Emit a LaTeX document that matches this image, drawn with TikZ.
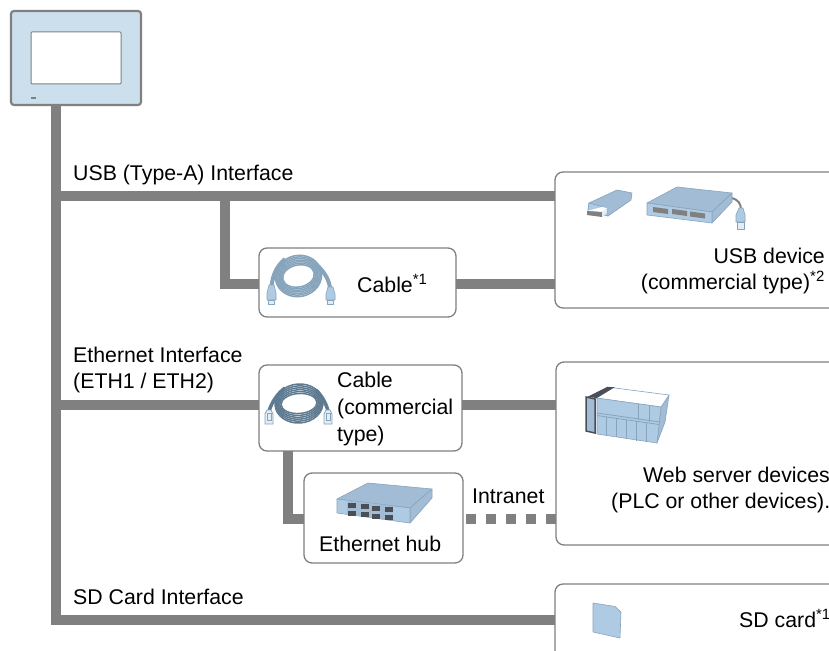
\documentclass[tikz,border=0pt]{standalone}
\usepackage{fontspec}
\setmainfont{Liberation Sans}
\definecolor{wiregray}{HTML}{808080}
\definecolor{panelblue}{HTML}{CBDFED}
\definecolor{iconblue}{HTML}{AECBE3}
\definecolor{icontop}{HTML}{A2BCD5}
\definecolor{iconedge}{HTML}{86A4BC}
\definecolor{paleplug}{HTML}{E3EDF5}
\definecolor{portdark}{HTML}{4A4F55}
\definecolor{ethcoil}{HTML}{5E7A90}
\tikzset{
	devbox/.style={draw=wiregray,fill=white,line width=1.3pt,rounded corners=8pt,inner sep=0pt,outer sep=0pt,anchor=north west},
	wire/.style={draw=wiregray,line width=10pt},
	lbl/.style={font=\fontsize{21.3}{25}\selectfont,inner sep=0pt,anchor=base west},
	rlbl/.style={lbl,anchor=base east},
	iconface/.style={fill=iconblue,draw=iconedge,line width=0.6pt,line join=round},
	icontopface/.style={fill=icontop,draw=iconedge,line width=0.6pt,line join=round},
	portslot/.style={fill=portdark,draw=none},
	usbstrand/.style={draw=iconedge,line width=1.5pt},
	ethstrand/.style={draw=ethcoil,line width=1.5pt},
}
\begin{document}
\begin{tikzpicture}[x=1pt,y=-1pt]
	\useasboundingbox (0,0) rectangle (829,650);

	\node[devbox,draw=wiregray,fill=panelblue,line width=2.2pt,rounded corners=3pt,minimum width=130pt,minimum height=94pt] (hmi) at (11,11) {};
	\node[devbox,rounded corners=1pt,line width=1pt,minimum width=90pt,minimum height=52pt] (screen) at (31,32) {};
	\node[fill=wiregray,inner sep=0pt,minimum width=5pt,minimum height=1.5pt] (led) at (33.5,98) {};

	\node[devbox,minimum width=197pt,minimum height=69pt] (usbcable) at (259,248) {};
	\node[devbox,minimum width=300pt,minimum height=136pt] (usbdev) at (555,172) {};
	\node[devbox,minimum width=203pt,minimum height=86pt] (ethcable) at (259,365) {};
	\node[devbox,minimum width=159pt,minimum height=90pt] (hub) at (304,473) {};
	\node[devbox,minimum width=300pt,minimum height=183pt] (webdev) at (556,362) {};
	\node[devbox,minimum width=300pt,minimum height=100pt] (sdcard) at (555,584) {};

	\coordinate (bustop) at (56,105);
	\coordinate (busend) at (56,620);
	\coordinate (usbtee) at (56,196);
	\coordinate (cabletee) at (225,196);
	\coordinate (ethtee) at (51,405);
	\coordinate (hubtee) at (288,451);

	\draw[wire] (bustop) -- (busend) -- (busend -| sdcard.west);
	\draw[wire] (usbtee) -- (usbtee -| usbdev.west);
	\draw[wire] (cabletee) |- (usbcable.west |- 0,284);
	\draw[wire] (usbcable.east |- 0,284) -- (usbdev.west |- 0,284);
	\draw[wire] (ethtee) -- (ethcable.west |- ethtee);
	\draw[wire] (ethcable.east |- ethtee) -- (webdev.west |- ethtee);
	\draw[wire] (hubtee) |- (hub.west |- 0,519);
	\draw[wire,dash pattern=on 10pt off 10pt] (hub.east |- 0,519) ++(3,0) -- (webdev.west |- 0,519);

	\node[lbl] (usblabel) at (73,180) {USB (Type-A) Interface};
	\node[lbl] (ethlabela) at (73,362) {Ethernet Interface};
	\node[lbl] (ethlabelb) at (73,388) {(ETH1 / ETH2)};
	\node[lbl] (sdlabel) at (73,604) {SD Card Interface};
	\node[lbl] (usbcabletext) at (357,292) {Cable\textsuperscript{*1}};
	\node[rlbl] (usbdeva) at (825,263) {USB device};
	\node[rlbl] (usbdevb) at (825,289) {(commercial type)\textsuperscript{*2}};
	\node[lbl] (ethcablea) at (337,387) {Cable};
	\node[lbl] (ethcableb) at (337,414) {(commercial};
	\node[lbl] (ethcablec) at (337,441) {type)};
	\node[lbl] (hubtext) at (319,551) {Ethernet hub};
	\node[lbl] (intranet) at (472,503) {Intranet};
	\node[lbl] (weba) at (643,482) {Web server devices};
	\node[lbl] (webb) at (611,508) {(PLC or other devices).};
	\node[lbl] (sdtext) at (739,627) {SD card\textsuperscript{*1}};

	\foreach \r in {0,1,2,3,4,5,6}
		\draw[usbstrand] (298.5,276) ellipse [x radius={16+1.2*\r},y radius={11+1.6*\r},rotate=12];
	\draw[usbstrand,line width=4pt] (271.5,286) .. controls (273,274) and (277,266) .. (285,259);
	\draw[usbstrand,line width=4pt] (330,288) .. controls (329,280) and (325,273) .. (318,266);
	\draw[iconface] (267,293) -- (269,285) -- (274,285) -- (276,293) -- (276,300) -- (267,300) -- cycle;
	\draw[iconface,fill=paleplug] (268.5,300) rectangle (274.5,304);
	\draw[iconface] (326,294) -- (328,287) -- (333,287) -- (335,294) -- (335,300) -- (326,300) -- cycle;
	\draw[iconface,fill=paleplug] (327.5,300) rectangle (333.5,304);

	\foreach \r in {0,1,2,3,4,5}
		\draw[ethstrand] (299,403.5) ellipse [x radius={18+1.2*\r},y radius={10+1.9*\r},rotate=4];
	\draw[ethstrand,line width=3.5pt] (269,411) .. controls (272,402) and (277,394) .. (285,388);
	\draw[ethstrand,line width=3.5pt] (328,411) .. controls (326,403) and (322,396) .. (316,390);
	\draw[iconedge,fill=paleplug,line width=0.8pt] (265,414) -- (267,410) -- (271,410) -- (273,414) -- (273,424) -- (265,424) -- cycle;
	\draw[iconedge,line width=0.6pt] (267,413) rectangle (271,420);
	\draw[iconedge,fill=paleplug,line width=0.8pt] (324,414) -- (326,410) -- (330,410) -- (332,414) -- (332,424) -- (324,424) -- cycle;
	\draw[iconedge,line width=0.6pt] (326,413) rectangle (330,420);

	\draw[icontopface] (589,203) -- (617,190) -- (632,193) -- (631,200) -- (608,216) -- (588,210) -- cycle;
	\draw[iconface] (589,203) -- (607,208) -- (608,216) -- (588,210) -- cycle;
	\draw[fill=white,draw=none] (587,211) -- (602,207) -- (607,208) -- (602,212) -- cycle;
	\draw[fill=wiregray,draw=none] (587,211) -- (602,212) -- (602,217) -- (587,215) -- cycle;
	\draw[fill=paleplug,draw=none] (602,212) -- (607,208) -- (607,213) -- (602,217) -- cycle;

	\draw[wiregray,line width=2pt] (732,198) .. controls (738,200) and (741,203) .. (741,210);
	\draw[iconface] (736,222) -- (736,215) -- (739,208) -- (743,208) -- (745,215) -- (745,222) -- cycle;
	\draw[iconedge,fill=paleplug,line width=0.8pt] (737,222) rectangle (744,229);
	\draw[icontopface] (647,203) -- (677,187) -- (732,193) -- (712,212) -- cycle;
	\draw[icontopface] (712,212) -- (732,193) -- (732,202) -- (712,223) -- cycle;
	\draw[iconface] (647,203) -- (712,212) -- (712,223) -- (647,215) -- cycle;
	\fill[wiregray] (653,207) -- (668,209) -- (668,214) -- (653,212) -- cycle;
	\fill[wiregray] (672,209) -- (687,211) -- (687,216) -- (672,214) -- cycle;
	\fill[wiregray] (690,211.5) -- (705,213.5) -- (705,218.5) -- (690,216.5) -- cycle;

	\draw[icontopface] (337,499) -- (368,483) -- (432,489) -- (410,508) -- cycle;
	\draw[icontopface] (410,508) -- (432,489) -- (432,498) -- (410,523) -- cycle;
	\draw[iconface] (337,499) -- (410,508) -- (410,523) -- (337,513) -- cycle;
	\draw[fill=icontop,draw=none] (347,500.3) -- (393,506) -- (393,520.7) -- (347,514.4) -- cycle;
	\foreach \px/\py in {348/502.7,361/504,372/505.5,385/507}{
		\fill[portslot] (\px,\py) rectangle ++(8,5);
		\fill[portslot] (\px,\py+8) rectangle ++(8,5);
	}

	\draw[icontopface] (661,407) -- (669,395) -- (665,422) -- (657,443) -- cycle;
	\draw[iconface,fill=white] (595,398) -- (607,387) -- (669,395) -- (661,407) -- cycle;
	\fill[portdark] (587,397) -- (607,387) -- (615,387) -- (597,398) -- cycle;
	\draw[iconface] (597,398) -- (661,407) -- (657,443) -- (597,434) -- cycle;
	\draw[iconedge,line width=0.8pt] (597,413) -- (660,422);
	\draw[iconedge,line width=0.8pt] (597,415.5) -- (659,424.5);
	\foreach \dx/\dya/\dyb in {606/417/436,616/418/437,626/420/439,636/421/440.5,646/423/442}
		\draw[iconedge,line width=0.8pt] (\dx,\dya) -- (\dx,\dyb);
	\foreach \dx/\dya/\dyb in {638/404/420,649/405.5/421.5}
		\draw[iconedge,line width=0.8pt] (\dx,\dya) -- (\dx,\dyb);
	\draw[portdark,fill=icontop,line width=1.5pt] (586,397) -- (595,399) -- (595,433) -- (586,431) -- cycle;

	\draw[iconface] (593,603) -- (615,606.5) -- (621,612) -- (620,638) -- (593,632) -- cycle;
\end{tikzpicture}
\end{document}
